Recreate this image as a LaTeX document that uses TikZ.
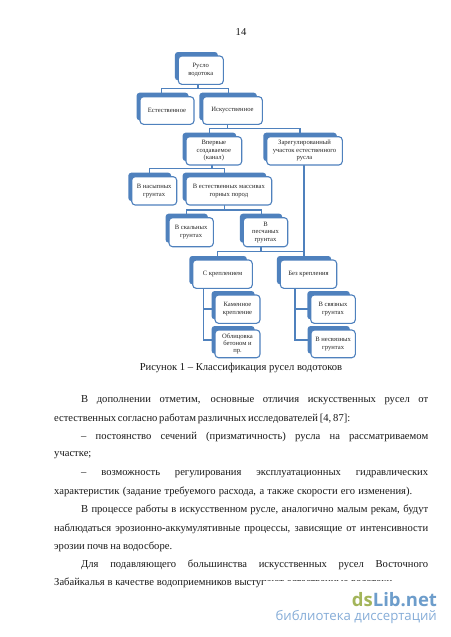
\documentclass[tikz,border=0pt]{standalone}
\usepackage{fontspec}
\setmainfont{Liberation Serif}
\newfontfamily\wmfont{Open Sans}
\definecolor{bluedk}{HTML}{4F81BD}
\definecolor{wmgreen}{HTML}{A3B55A}
\definecolor{wmblue}{HTML}{6D9DCB}
\definecolor{wmlight}{HTML}{86ADD8}
\tikzset{
  x=1pt,y=-1pt,
  conn/.style={draw=bluedk,line width=1.1pt},
  backbox/.style={fill=bluedk,rounded corners=3pt},
  frontbox/.style={draw=bluedk,fill=white,line width=1.1pt,rounded corners=3.5pt},
  boxtext/.style={font=\fontsize{6.6}{7.4}\selectfont,align=center,text=black!85,inner sep=0pt},
  bodyline/.style={anchor=west,inner sep=0pt,font=\fontsize{10.6}{12}\selectfont,text=black!90},
}
% #1 name, #2 left, #3 top, #4 right, #5 bottom (front box), #6 text
\newcommand{\cardbox}[6]{%
  \fill[backbox] ({#2-3.4},{#3-4}) rectangle ({#4-5.5},{#5-4});
  \draw[frontbox] (#2,#3) rectangle (#4,#5);
  \node[boxtext] (#1) at ({(#2+#4)/2},{(#3+#5)/2}) {#6};
}
\newcommand{\jline}[4]{\node[bodyline] at (#1,#2) {\hbox to #3pt{#4}};}
\begin{document}
\begin{tikzpicture}
\useasboundingbox (0,0) rectangle (450,637);
\fill[white] (0,0) rectangle (450,637);
% connectors
\coordinate (c1a) at (161.7,88.3); \coordinate (c1b) at (228.3,88.3);
\coordinate (c2a) at (209.3,128.3); \coordinate (c2b) at (300,128.3);
\coordinate (c3a) at (149.3,168.3); \coordinate (c3b) at (224.3,168.3);
\coordinate (c4a) at (186.7,210); \coordinate (c4b) at (261.7,210);
\coordinate (c5a) at (217.7,251.7); \coordinate (c5b) at (304,251.7);
\draw[conn] (198,84) -- (198,88.3);
\draw[conn] (c1a) -- (161.7,93) (c1a) -- (c1b) -- (228.3,93);
\draw[conn] (227.3,124) -- (227.3,128.3);
\draw[conn] (c2a) -- (209.3,133) (c2a) -- (c2b) -- (300,133);
\draw[conn] (212,165) -- (212,168.3);
\draw[conn] (149.3,173) -- (c3a) -- (c3b) -- (224.3,173);
\draw[conn] (224.3,205) -- (224.3,210);
\draw[conn] (186.7,214) -- (c4a) -- (c4b) -- (261.7,214);
\draw[conn] (261,246.5) -- (261,251.7);
\draw[conn] (304,165) -- (304,256);
\draw[conn] (217.7,256) -- (c5a) -- (c5b);
\draw[conn] (203.3,288) -- (203.3,340) -- (212,340) (203.3,309) -- (212,309);
\draw[conn] (295,288) -- (295,340) -- (308,340) (295,309) -- (308,309);
% boxes
\cardbox{root}{178.3}{56}{223.3}{84.3}{Русло\\водотока}
\cardbox{nat}{140}{96.7}{194}{124.3}{Естественное}
\cardbox{art}{202.7}{96.7}{262.3}{124.3}{Искусственное}
\cardbox{first}{186}{136.7}{241.7}{165}{Впервые\\создаваемое\\(канал)}
\cardbox{reg}{266.7}{136.7}{342.3}{165}{Зарегулированный\\участок естественного\\русла}
\cardbox{fill}{131.7}{176.7}{176.7}{205}{В насыпных\\грунтах}
\cardbox{massif}{186}{176.7}{271.7}{205}{В естественных массивах\\горных пород}
\cardbox{rock}{169}{217.7}{213.3}{246.7}{В скальных\\грунтах}
\cardbox{sand}{243.3}{217.7}{287.7}{246.7}{В\\песчаных\\грунтах}
\cardbox{lined}{192.7}{260}{252.3}{288.3}{С креплением}
\cardbox{unlined}{280.3}{260}{336.7}{288.3}{Без крепления}
\cardbox{stone}{215}{295}{260}{323.3}{Каменное\\крепление}
\cardbox{conc}{215}{330}{260}{357.7}{Облицовка\\бетоном и\\пр.}
\cardbox{coh}{310.7}{295}{355.3}{323.3}{В связных\\грунтах}
\cardbox{noncoh}{311}{330}{355.3}{357.7}{В несвязных\\грунтах}
% text
\node[bodyline,anchor=center] (pg) at (241,32) {14};
\node[bodyline,anchor=center] (cap) at (241,367.7) {Рисунок 1 – Классификация русел водотоков};
\jline{81}{400}{347}{В дополнении отметим, основные отличия искусственных русел от}
\jline{54}{418.5}{292}{естественных согласно работам различных исследователей [4, 87]:}
\jline{81}{437}{347}{– постоянство сечений (призматичность) русла на рассматриваемом}
\jline{54}{455.2}{36}{участке;}
\jline{81}{473.7}{347}{– возможность регулирования эксплуатационных гидравлических}
\jline{54}{492}{358}{характеристик (задание требуемого расхода, а также скорости его изменения).}
\jline{81}{510}{347}{В процессе работы в искусственном русле, аналогично малым рекам, будут}
\jline{54}{528.4}{374}{наблюдаться эрозионно-аккумулятивные процессы, зависящие от интенсивности}
\jline{54}{546.7}{118}{эрозии почв на водосборе.}
\jline{81}{565}{347}{Для подавляющего большинства искусственных русел Восточного}
\jline{54}{583.3}{338}{Забайкалья в качестве водоприемников выступают естественные водотоки}
% watermark
\fill[white] (263,581) rectangle (450,637);
\node[anchor=west,inner sep=0pt,font=\wmfont\bfseries\fontsize{18.5}{20}\selectfont] (wm) at (351.7,600) {\textcolor{wmgreen}{ds}\textcolor{wmblue}{Lib.net}};
\node[anchor=east,inner sep=0pt,font=\wmfont\fontsize{13.2}{15}\selectfont,text=wmlight] (wm2) at (437,617) {библиотека диссертаций};
\end{tikzpicture}
\end{document}
